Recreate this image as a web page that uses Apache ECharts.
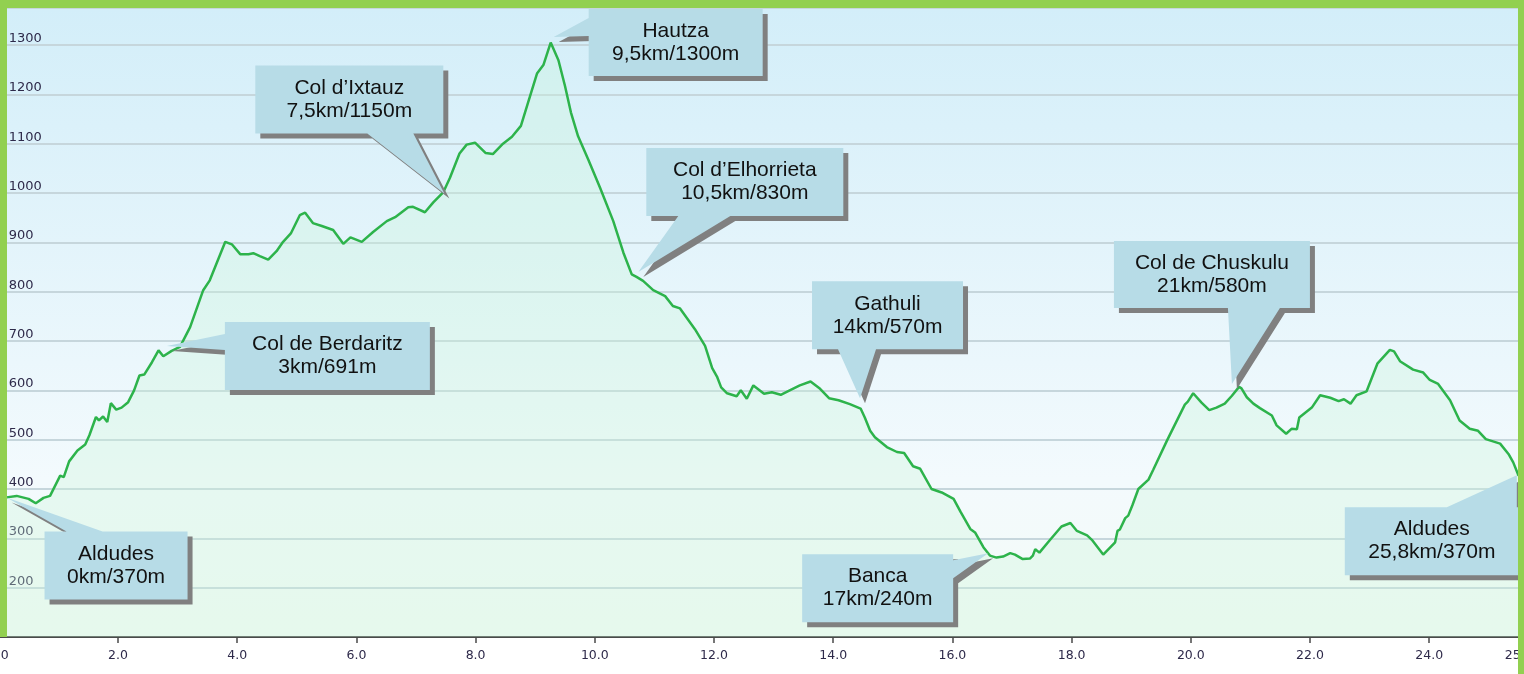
<!DOCTYPE html>
<html>
<head>
<meta charset="utf-8">
<title>Profil Aldudes</title>
<script src="https://cdn.jsdelivr.net/npm/echarts@6/dist/echarts.min.js"></script>
<style>
  html, body { margin: 0; padding: 0; background: #fff; }
  #main { width: 1524px; height: 674px; }
</style>
</head>
<body>
<div id="main"></div>
<script>
// distance (km) / altitude (m)
var km = [0.00, 0.13, 0.30, 0.50, 0.62, 0.75, 0.86, 1.03, 1.09, 1.18, 1.32, 1.45, 1.52, 1.63, 1.68, 1.75, 1.82, 1.88, 1.97, 2.06,
  2.17, 2.27, 2.36, 2.44, 2.57, 2.68, 2.76, 2.90, 3.04, 3.21, 3.43, 3.54, 3.80, 3.91, 4.05, 4.19, 4.27, 4.38, 4.52, 4.66,
  4.77, 4.90, 5.05, 5.14, 5.27, 5.42, 5.61, 5.78, 5.90, 6.09, 6.28, 6.51, 6.65, 6.87, 6.95, 7.15, 7.29, 7.46, 7.57, 7.73,
  7.85, 7.99, 8.17, 8.29, 8.46, 8.61, 8.76, 8.88, 9.03, 9.14, 9.26, 9.39, 9.50, 9.60, 9.72, 9.89, 10.09, 10.31, 10.48, 10.62,
  10.70, 10.81, 10.98, 11.18, 11.31, 11.43, 11.68, 11.85, 11.97, 12.05, 12.12, 12.22, 12.38, 12.45, 12.55, 12.66, 12.84, 12.97, 13.12, 13.27,
  13.44, 13.62, 13.78, 13.93, 14.09, 14.28, 14.46, 14.53, 14.62, 14.70, 14.90, 15.07, 15.19, 15.34, 15.46, 15.65, 15.82, 16.02, 16.14, 16.30,
  16.38, 16.52, 16.63, 16.74, 16.85, 16.97, 17.05, 17.18, 17.30, 17.35, 17.39, 17.46, 17.64, 17.83, 17.98, 18.09, 18.26, 18.34, 18.53, 18.73,
  18.77, 18.81, 18.90, 18.95, 19.02, 19.12, 19.29, 19.37, 19.60, 19.71, 19.90, 19.95, 20.04, 20.18, 20.31, 20.43, 20.57, 20.69, 20.81, 20.85,
  20.94, 21.05, 21.16, 21.36, 21.44, 21.60, 21.69, 21.78, 21.82, 22.03, 22.17, 22.34, 22.48, 22.57, 22.68, 22.78, 22.95, 23.13, 23.34, 23.41,
  23.51, 23.73, 23.90, 24.01, 24.15, 24.35, 24.51, 24.68, 24.82, 24.95, 25.19, 25.33, 25.41, 25.50];
var elev = [380, 383, 386, 380, 371, 382, 386, 427, 424, 456, 478, 490, 509, 546, 539, 547, 536, 574, 561, 565,
  576, 600, 630, 632, 657, 681, 669, 680, 688, 728, 803, 823, 901, 896, 876, 876, 878, 872, 865, 882,
  901, 918, 955, 960, 939, 933, 925, 897, 910, 901, 921, 943, 951, 971, 972, 961, 981, 1002, 1031, 1080,
  1098, 1102, 1081, 1079, 1100, 1114, 1136, 1183, 1242, 1260, 1305, 1269, 1217, 1163, 1115, 1068, 1010, 943, 879, 835,
  830, 822, 803, 791, 771, 766, 724, 690, 645, 628, 606, 594, 588, 600, 583, 610, 593, 596, 591, 600,
  610, 618, 603, 584, 580, 572, 563, 545, 518, 505, 485, 475, 473, 446, 441, 400, 393, 380, 353, 319,
  312, 282, 265, 261, 263, 270, 267, 258, 259, 265, 278, 271, 297, 324, 331, 315, 306, 297, 267, 292,
  315, 318, 341, 346, 367, 400, 419, 439, 498, 525, 571, 577, 594, 575, 560, 565, 573, 589, 607, 604,
  586, 573, 564, 549, 529, 512, 522, 521, 545, 565, 590, 585, 578, 582, 573, 590, 598, 654, 682, 679,
  659, 642, 636, 621, 613, 580, 539, 522, 518, 501, 492, 471, 454, 427];

// callouts: names, labels and the point each one points at
var calloutNames = ['Aldudes', 'Col de Berdaritz', 'Col d\u2019Ixtauz', 'Hautza', 'Col d\u2019Elhorrieta',
  'Gathuli', 'Banca', 'Col de Chuskulu', 'Aldudes'];
var calloutLabels = ['0km/370m', '3km/691m', '7,5km/1150m', '9,5km/1300m', '10,5km/830m',
  '14km/570m', '17km/240m', '21km/580m', '25,8km/370m'];
var calloutKm = [0.13, 2.82, 7.475, 9.31, 10.73, 14.45, 16.6, 20.69, 25.47];
var calloutElev = [383, 690, 999, 1316, 840, 584, 270, 613, 428];

// box placement relative to the tip (px): dx, dy, w, h, edge the pointer leaves from, pointer base a..b
var calloutBoxes = [
  { dx: 38, dy: 34, w: 143, h: 68, edge: 'top', a: 22, b: 58 },
  { dx: 58, dy: -24, w: 205, h: 68, edge: 'left', a: 12, b: 28 },
  { dx: -189, dy: -128, w: 188, h: 68, edge: 'bottom', a: 112, b: 158 },
  { dx: 35, dy: -28, w: 174, h: 67, edge: 'left', a: 9, b: 27 },
  { dx: 8, dy: -124, w: 197, h: 68, edge: 'bottom', a: 32, b: 84 },
  { dx: -48, dy: -117, w: 151, h: 68, edge: 'bottom', a: 26, b: 64 },
  { dx: -186, dy: 1, w: 151, h: 68, edge: 'right', a: 6, b: 24 },
  { dx: -118, dy: -143, w: 196, h: 67, edge: 'bottom', a: 114, b: 166 },
  { dx: -172, dy: 32, w: 174, h: 68, edge: 'top', a: 102, b: 172 }
];

var profile = km.map(function (k, i) { return [k, elev[i]]; });
var calloutData = calloutKm.map(function (k, i) { return [k, calloutElev[i]]; });

function calloutPoints(x0, y0, w, h, edge, a, b, tip) {
  var x1 = x0 + w, y1 = y0 + h;
  var pts = [[x0, y0]];
  if (edge === 'top') pts.push([x0 + a, y0], tip, [x0 + b, y0]);
  pts.push([x1, y0]);
  if (edge === 'right') pts.push([x1, y0 + a], tip, [x1, y0 + b]);
  pts.push([x1, y1]);
  if (edge === 'bottom') pts.push([x0 + b, y1], tip, [x0 + a, y1]);
  pts.push([x0, y1]);
  if (edge === 'left') pts.push([x0, y0 + b], tip, [x0, y0 + a]);
  return pts;
}

function renderCallout(params, api) {
  var i = params.dataIndex;
  var p = api.coord([api.value(0), api.value(1)]);
  var c = calloutBoxes[i];
  var x0 = p[0] + c.dx, y0 = p[1] + c.dy;
  var main = calloutPoints(x0, y0, c.w, c.h, c.edge, c.a, c.b, [p[0], p[1]]);
  var shadow = main.map(function (q) { return [q[0] + 5, q[1] + 5]; });
  return {
    type: 'group',
    children: [
      { type: 'polygon', shape: { points: shadow }, style: { fill: '#808080' } },
      { type: 'polygon', shape: { points: main }, style: { fill: '#b7dce7' } },
      {
        type: 'text',
        style: {
          text: calloutNames[i] + '\n' + calloutLabels[i],
          x: x0 + c.w / 2, y: y0 + c.h / 2,
          align: 'center', verticalAlign: 'middle',
          font: '21px "Liberation Sans", Arial, sans-serif',
          lineHeight: 23, fill: '#111'
        }
      }
    ]
  };
}

var myChart = echarts.init(document.getElementById('main'));

var option = {
  animation: false,
  grid: {
    left: -1.2, right: 5.4, top: 8, bottom: 37,
    containLabel: false, outerBoundsMode: 'none',
    show: true, borderWidth: 0,
    backgroundColor: new echarts.graphic.LinearGradient(0, 0, 0, 1, [
      { offset: 0, color: '#d3eef9' },
      { offset: 0.75, color: '#f3fafd' },
      { offset: 1, color: '#f3fbf6' }
    ])
  },
  xAxis: {
    type: 'value', min: 0, max: 25.5, interval: 2,
    axisLine: { show: true, lineStyle: { color: '#4a4a4a', width: 2 } },
    axisTick: { show: true, length: 6, lineStyle: { color: '#4a4a4a', width: 1.5 } },
    axisLabel: {
      color: '#2e2a4a', fontFamily: 'DejaVu Sans', fontSize: 12.5, margin: 12,
      formatter: function (v) { return v.toFixed(1); }
    },
    splitLine: { show: false }
  },
  yAxis: {
    type: 'value', min: 100, max: 1375, interval: 100,
    axisLine: { show: false },
    axisTick: { show: false },
    axisLabel: {
      inside: true, margin: 10, verticalAlign: 'bottom',
      showMinLabel: false, showMaxLabel: false,
      color: '#2e2a4a', fontFamily: 'DejaVu Sans', fontSize: 13,
      formatter: function (v) { return String(v); }
    },
    splitLine: { show: true, lineStyle: { color: '#c6d6dc', width: 2 } }
  },
  series: [
    {
      type: 'line',
      data: profile,
      showSymbol: false,
      z: 2,
      lineStyle: { color: '#2db34b', width: 2.5 },
      areaStyle: { color: 'rgba(200, 244, 218, 0.45)' }
    },
    {
      type: 'custom',
      data: calloutData,
      renderItem: renderCallout,
      clip: false,
      silent: true,
      z: 5
    }
  ],
  graphic: [
    { type: 'rect', z: 100, shape: { x: 0, y: 0, width: 1524, height: 8 }, style: { fill: '#92d050' } },
    { type: 'rect', z: 100, shape: { x: 0, y: 0, width: 7, height: 637 }, style: { fill: '#92d050' } },
    { type: 'rect', z: 100, shape: { x: 1518, y: 0, width: 6, height: 674 }, style: { fill: '#92d050' } }
  ]
};

myChart.setOption(option);
</script>
</body>
</html>
